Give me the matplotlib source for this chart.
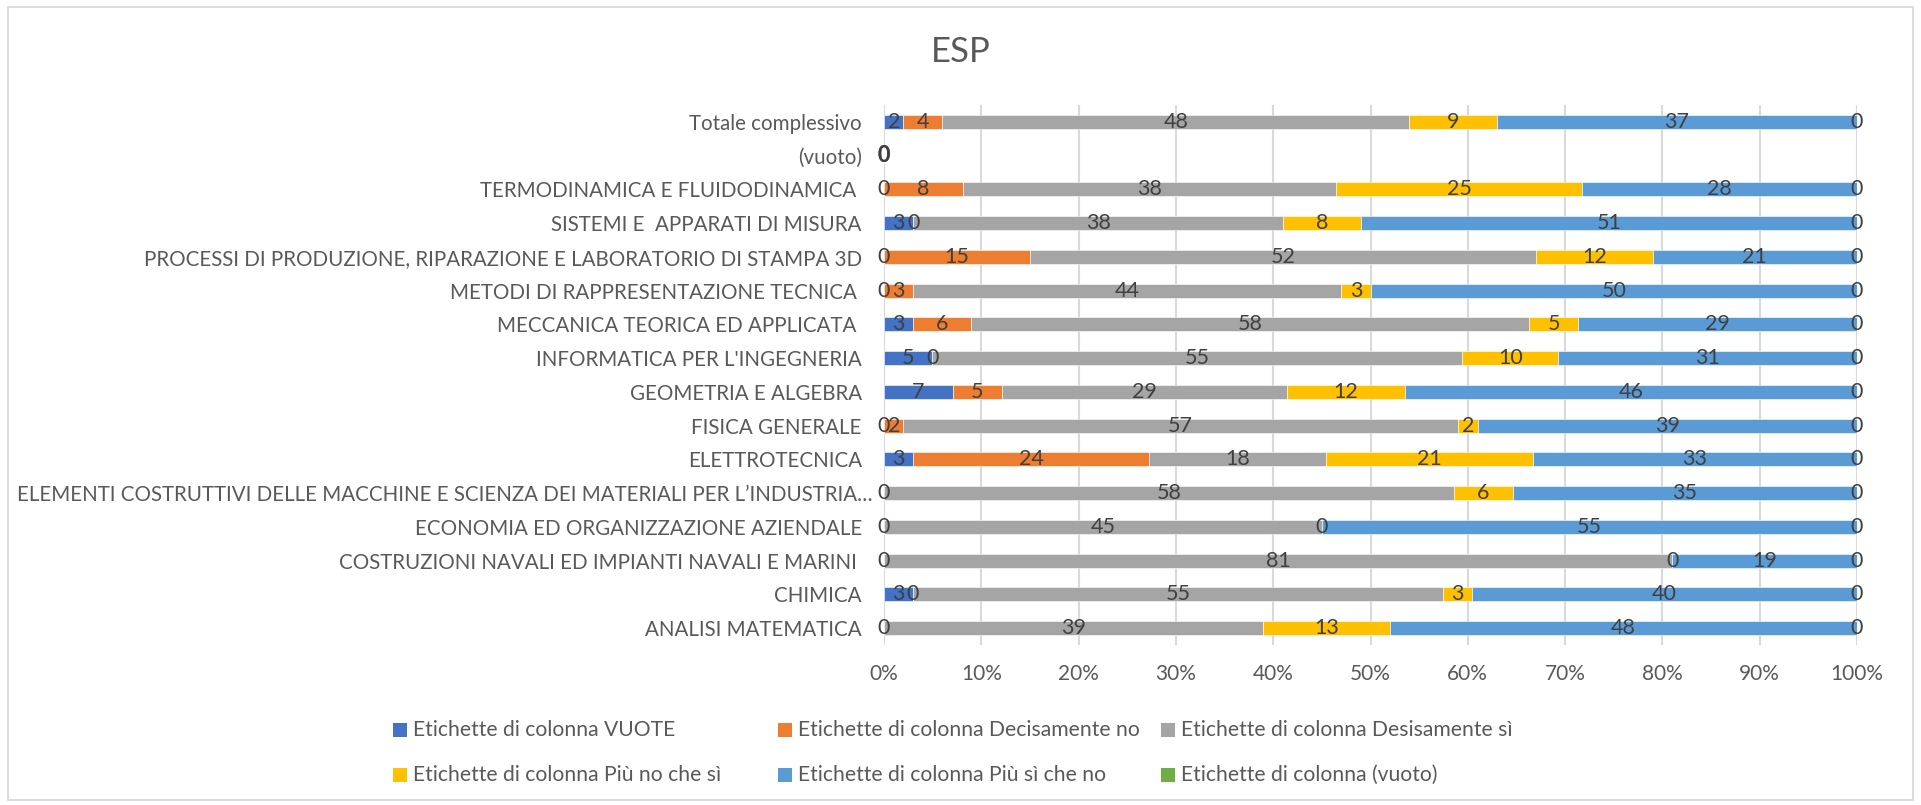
import numpy as np
import matplotlib
matplotlib.use("Agg")
import matplotlib.pyplot as plt
from matplotlib.patches import Rectangle
from matplotlib.transforms import ScaledTranslation

plt.rcParams['font.family'] = ['Lato', 'DejaVu Sans']

categories = [
    "Totale complessivo",
    "(vuoto)",
    "TERMODINAMICA E FLUIDODINAMICA ",
    "SISTEMI E  APPARATI DI MISURA",
    "PROCESSI DI PRODUZIONE, RIPARAZIONE E LABORATORIO DI STAMPA 3D",
    "METODI DI RAPPRESENTAZIONE TECNICA ",
    "MECCANICA TEORICA ED APPLICATA ",
    "INFORMATICA PER L'INGEGNERIA",
    "GEOMETRIA E ALGEBRA",
    "FISICA GENERALE",
    "ELETTROTECNICA",
    "ELEMENTI COSTRUTTIVI DELLE MACCHINE E SCIENZA DEI MATERIALI PER L\u2019INDUSTRIA\u2026",
    "ECONOMIA ED ORGANIZZAZIONE AZIENDALE",
    "COSTRUZIONI NAVALI ED IMPIANTI NAVALI E MARINI ",
    "CHIMICA",
    "ANALISI MATEMATICA",
]

series_names = [
    "Etichette di colonna VUOTE",
    "Etichette di colonna Decisamente no",
    "Etichette di colonna Desisamente s\u00ec",
    "Etichette di colonna Pi\u00f9 no che s\u00ec",
    "Etichette di colonna Pi\u00f9 s\u00ec che no",
    "Etichette di colonna (vuoto)",
]
colors = ["#4472C4", "#ED7D31", "#A5A5A5", "#FFC000", "#5B9BD5", "#70AD47"]

nan = np.nan
vuote          = [2, 0, 0, 3, 0, 0, 3, 5, 7, 0, 3, 0, 0, 0, 3, 0]
decisamente_no = [4, nan, 8, 0, 15, 3, 6, 0, 5, 2, 24, nan, nan, nan, 0, nan]
desisamente_si = [48, nan, 38, 38, 52, 44, 58, 55, 29, 57, 18, 58, 45, 81, 55, 39]
piu_no_che_si  = [9, nan, 25, 8, 12, 3, 5, 10, 12, 2, 21, 6, 0, 0, 3, 13]
piu_si_che_no  = [37, nan, 28, 51, 21, 50, 29, 31, 46, 39, 33, 35, 55, 19, 40, 48]
vuoto_series   = [0, 0, 0, 0, 0, 0, 0, 0, 0, 0, 0, 0, 0, 0, 0, 0]

data = np.array([vuote, decisamente_no, desisamente_si,
                 piu_no_che_si, piu_si_che_no, vuoto_series], dtype=float)

W, H = 1921, 805
fig = plt.figure(figsize=(W / 100, H / 100), dpi=100)
fig.patch.set_facecolor("white")

# chart border
fig.add_artist(Rectangle((8 / W, 1 - 800 / H), (1913 - 8) / W, (800 - 7) / H,
                         transform=fig.transFigure, fill=False,
                         edgecolor="#D9D9D9", linewidth=1.3))

ax = fig.add_axes([884 / W, 1 - 645 / H, (1857 - 884) / W, (645 - 105) / H])

n = len(categories)
ypos = np.arange(n)
vals = np.nan_to_num(data)
totals = vals.sum(axis=0)
safe_tot = np.where(totals > 0, totals, 1.0)
pct = vals / safe_tot

left = np.zeros(n)
label_color = "#404040"
for i in range(len(series_names)):
    ax.barh(ypos, pct[i], left=left, height=0.42, color=colors[i],
            edgecolor="white", linewidth=0.4, label=series_names[i], zorder=2)
    for j in range(n):
        v = data[i, j]
        if np.isnan(v):
            continue
        xc = left[j] + pct[i, j] / 2
        ax.text(xc, ypos[j], f"{int(v)}", ha="center", va="center",
                fontsize=15.5, color=label_color, zorder=3,
                fontweight="bold" if totals[j] == 0 else "normal")
    left = left + pct[i]

ax.set_xlim(0, 1)
ax.set_ylim(n - 0.5, -0.5)
ax.set_xticks(np.linspace(0, 1, 11))
ax.set_xticklabels([f"{k}%" for k in range(0, 101, 10)])
ax.set_yticks(ypos)
ax.set_yticklabels(categories)
ax.tick_params(axis="x", length=0, pad=14, labelsize=15, labelcolor="#595959")
ax.tick_params(axis="y", length=0, pad=16, labelsize=14.8, labelcolor="#595959")
for s in ax.spines.values():
    s.set_visible(False)
ax.grid(axis="x", color="#D9D9D9", linewidth=1.5, zorder=0)
ax.set_axisbelow(True)

# the truncated long label sits closer to the axis, as in the reference
long_lab = ax.get_yticklabels()[11]
long_lab.set_transform(long_lab.get_transform() +
                       ScaledTranslation(11 / 100, 0, fig.dpi_scale_trans))

fig.text(961 / W, 1 - 52 / H, "ESP", ha="center", va="center",
         fontsize=25, color="#595959")

# legend laid out as in the reference (3 columns, 2 rows)
col_x = [393, 778, 1161]
row_y = [730, 775]
order = [0, 1, 2, 3, 4, 5]
for k, idx in enumerate(order):
    cx = col_x[k % 3]
    cy = row_y[k // 3]
    fig.add_artist(Rectangle((cx / W, 1 - (cy + 7) / H), 14 / W, 14 / H,
                             transform=fig.transFigure,
                             facecolor=colors[idx], edgecolor="none"))
    fig.text((cx + 20) / W, 1 - cy / H, series_names[idx], ha="left",
             va="center", fontsize=15.2, color="#595959")

fig.savefig("out.png", dpi=100, facecolor="white")
